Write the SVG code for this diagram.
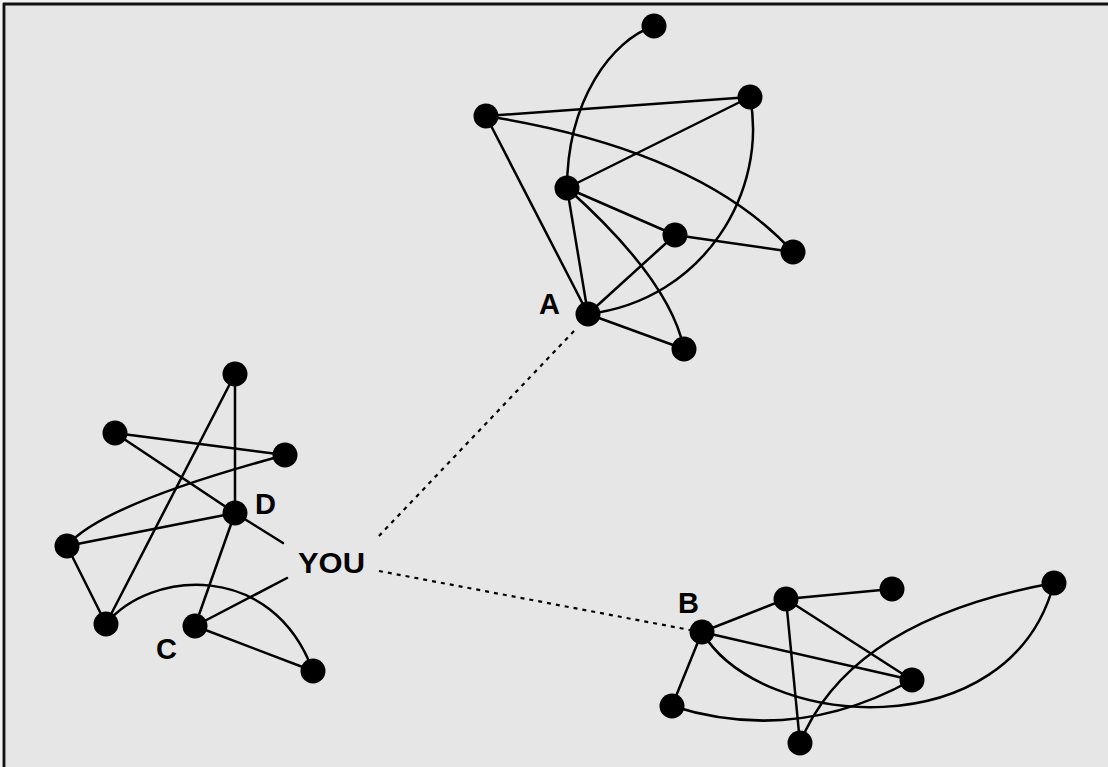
<svg xmlns="http://www.w3.org/2000/svg" width="1108" height="767" viewBox="0 0 1108 767">
<style>
.e{fill:none;stroke:#000;stroke-width:2.5;stroke-linecap:round}
.d{fill:none;stroke:#000;stroke-width:2.2;stroke-dasharray:4 5}
.n{fill:#000}
.l{font-family:"Liberation Sans",Arial,sans-serif;font-weight:bold;font-size:29px;fill:#000}
</style>
<rect width="1108" height="767" fill="#e6e6e6"/>
<rect width="1108" height="3" fill="#f2f2f2"/>
<rect width="2" height="767" fill="#f2f2f2"/>
<line x1="3" y1="4" x2="1108" y2="4" stroke="#111" stroke-width="2.8"/>
<line x1="4" y1="3" x2="4" y2="767" stroke="#111" stroke-width="2.8"/>
<g id="connectors">
<!-- cluster A -->
<path class="e" d="M654,26 C612,40 567,100 567,189"/>
<path class="e" d="M486,116 L750,97"/>
<path class="e" d="M486,116 Q700,150 793,252"/>
<path class="e" d="M486,116 L588,314"/>
<path class="e" d="M750,97 L567,188"/>
<path class="e" d="M750,97 C768,190 705,300 588,314"/>
<path class="e" d="M567,188 L675,235"/>
<path class="e" d="M567,188 L588,314"/>
<path class="e" d="M567,188 Q670,280 684,349"/>
<path class="e" d="M675,235 L793,252"/>
<path class="e" d="M675,235 L588,314"/>
<path class="e" d="M588,314 L684,349"/>
<!-- left cluster -->
<path class="e" d="M235,374 L235,513"/>
<path class="e" d="M235,374 L106,624"/>
<path class="e" d="M115,433 L285,455"/>
<path class="e" d="M115,433 L235,513 L283,543"/>
<path class="e" d="M285,455 Q100,505 67,546"/>
<path class="e" d="M67,546 L235,513"/>
<path class="e" d="M67,546 L106,624"/>
<path class="e" d="M235,513 L195,626"/>
<path class="e" d="M106,624 C150,570 272,560 313,671"/>
<path class="e" d="M195,626 L287,578"/>
<path class="e" d="M195,626 L313,671"/>
<!-- cluster B -->
<path class="e" d="M702,632 L786,599"/>
<path class="e" d="M786,599 L892,589"/>
<path class="e" d="M702,632 L912,680"/>
<path class="e" d="M786,599 L912,680"/>
<path class="e" d="M786,599 L800,743"/>
<path class="e" d="M702,632 L672,706"/>
<path class="e" d="M702,632 C760,730 1010,750 1054,583"/>
<path class="e" d="M672,706 Q795,745 912,680"/>
<path class="e" d="M800,743 Q850,620 1054,583"/>
<!-- dotted links -->
<path class="d" d="M574,331 L378,537"/>
<path class="d" d="M379,571 L690,630"/>
</g>
<g id="nodeA"><circle class="n" cx="654" cy="26" r="12.5"/><circle class="n" cx="750" cy="97" r="12.5"/><circle class="n" cx="486" cy="116" r="12.5"/><circle class="n" cx="567" cy="188" r="12.5"/><circle class="n" cx="675" cy="235" r="12.5"/><circle class="n" cx="793" cy="252" r="12.5"/><circle class="n" cx="588" cy="314" r="12.5"/><circle class="n" cx="684" cy="349" r="12.5"/><text class="l" x="539" y="314">A</text></g>
<g id="nodeYou"><circle class="n" cx="235" cy="374" r="12.5"/><circle class="n" cx="115" cy="433" r="12.5"/><circle class="n" cx="285" cy="455" r="12.5"/><circle class="n" cx="235" cy="513" r="12.5"/><circle class="n" cx="67" cy="546" r="12.5"/><circle class="n" cx="106" cy="624" r="12.5"/><circle class="n" cx="195" cy="626" r="12.5"/><circle class="n" cx="313" cy="671" r="12.5"/><text class="l" x="255" y="514">D</text><text class="l" x="156" y="659">C</text><text class="l" x="298" y="573" textLength="67" lengthAdjust="spacingAndGlyphs">YOU</text></g>
<g id="nodeB"><circle class="n" cx="702" cy="632" r="12.5"/><circle class="n" cx="786" cy="599" r="12.5"/><circle class="n" cx="892" cy="589" r="12.5"/><circle class="n" cx="1054" cy="583" r="12.5"/><circle class="n" cx="912" cy="680" r="12.5"/><circle class="n" cx="672" cy="706" r="12.5"/><circle class="n" cx="800" cy="743" r="12.5"/><text class="l" x="678" y="613">B</text></g>
</svg>
